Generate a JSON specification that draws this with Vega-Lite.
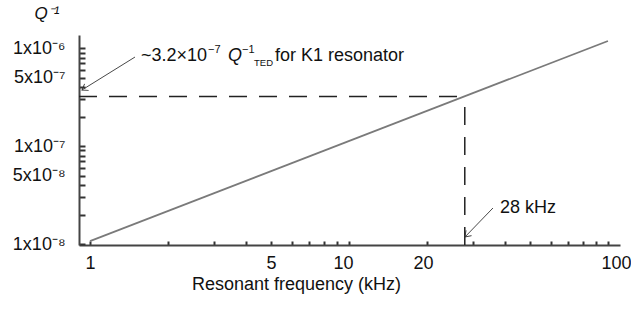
{
  "$schema": "https://vega.github.io/schema/vega-lite/v6.json",
  "width": 541,
  "height": 210,
  "autosize": {"type": "none"},
  "padding": {"left": 79, "top": 35, "right": 11, "bottom": 65},
  "background": "white",
  "config": {
    "view": {"stroke": null},
    "font": "Liberation Sans",
    "axis": {"grid": false}
  },
  "datasets": {
    "curve": [{"f": 1, "q": 1.07e-8}, {"f": 100, "q": 1.18e-6}],
    "guides": [
      {"f": 0.9069, "q": 3.2e-7, "f2": 28, "q2": 3.2e-7},
      {"f": 28, "q": 0.9768e-8, "f2": 28, "q2": 3.2e-7}
    ],
    "arrows": [
      {"f": 1.492, "q": 8.09e-7, "f2": 0.931, "q2": 3.73e-7},
      {"f": 35.97, "q": 2.33e-8, "f2": 28.05, "q2": 1.18e-8}
    ],
    "tips": [
      {"id": "K1", "f": 0.931, "q": 3.73e-7},
      {"id": "28", "f": 28.05, "q": 1.18e-8}
    ],
    "notes": [
      {"id": "a", "f": 1.574, "q": 7.37e-7, "txt": "~3.2×10"},
      {"id": "b", "f": 1.574, "q": 7.37e-7, "txt": "−7"},
      {"id": "c", "f": 1.574, "q": 7.37e-7, "txt": "Q"},
      {"id": "d", "f": 1.574, "q": 7.37e-7, "txt": "−1"},
      {"id": "e", "f": 1.574, "q": 7.37e-7, "txt": "TED"},
      {"id": "g", "f": 1.574, "q": 7.37e-7, "txt": "for K1 resonator"},
      {"id": "k", "f": 38.3, "q": 2.07e-8, "txt": "28 kHz"}
    ]
  },
  "encoding": {
    "x": {
      "field": "f",
      "type": "quantitative",
      "scale": {"type": "log", "domain": [0.9069, 111.3], "nice": false, "zero": false},
      "axis": {
        "title": "Resonant frequency (kHz)",
        "titleFontSize": 18,
        "titleFontWeight": "normal",
        "titleColor": "#111",
        "titleX": 217,
        "titleY": 44,
        "titleAlign": "center",
        "titleBaseline": "alphabetic",
        "values": [1, 2, 3, 4, 5, 6, 7, 8, 9, 10, 20, 30, 40, 50, 60, 70, 80, 90, 100],
        "labelExpr": "indexof([1,5,10,20,100], datum.value) >= 0 ? toString(datum.value) : ''",
        "labelFontSize": 18,
        "labelColor": "#111",
        "labelOverlap": false,
        "labelFlush": false,
        "labelPadding": 13,
        "labelOffset": {"condition": [{"test": "datum.value == 100", "value": 8}, {"test": "datum.value == 10", "value": -6}, {"test": "datum.value == 20", "value": -4}], "value": 0},
        "ticks": true,
        "tickSize": -4,
        "tickColor": "#333333",
        "tickWidth": 2,
        "domainColor": "#444",
        "domainWidth": 2
      }
    },
    "y": {
      "field": "q",
      "type": "quantitative",
      "scale": {"type": "log", "domain": [0.9768e-8, 1.358e-6], "nice": false, "zero": false},
      "axis": {
        "title": "Q⁻¹",
        "titleFontSize": 17,
        "titleFontStyle": "italic",
        "titleFontWeight": "normal",
        "titleColor": "#111",
        "titleAngle": 0,
        "titleX": -45,
        "titleY": -22,
        "titleAlign": "left",
        "titleBaseline": "middle",
        "values": [1e-8, 2e-8, 3e-8, 4e-8, 5e-8, 6e-8, 7e-8, 8e-8, 9e-8, 1e-7, 2e-7, 3e-7, 4e-7, 5e-7, 6e-7, 7e-7, 8e-7, 9e-7, 1e-6],
        "labelExpr": "round(datum.value*1e9)==1000 ? '1x10⁻⁶' : round(datum.value*1e9)==500 ? '5x10⁻⁷' : round(datum.value*1e9)==100 ? '1x10⁻⁷' : round(datum.value*1e9)==50 ? '5x10⁻⁸' : round(datum.value*1e9)==10 ? '1x10⁻⁸' : ''",
        "labelFontSize": 18,
        "labelColor": "#111",
        "labelOverlap": false,
        "labelFlush": false,
        "labelPadding": 20,
        "ticks": true,
        "tickSize": -6,
        "tickColor": "#333333",
        "tickWidth": 2,
        "domainColor": "#444",
        "domainWidth": 2
      }
    }
  },
  "layer": [
    {
      "data": {"name": "curve"},
      "mark": {"type": "line", "color": "#7a7a7a", "strokeWidth": 1.8}
    },
    {
      "data": {"name": "guides"},
      "mark": {"type": "rule", "color": "#222", "strokeWidth": 1.5, "strokeDash": [18, 12]},
      "encoding": {"x2": {"field": "f2"}, "y2": {"field": "q2"}}
    },
    {
      "data": {"name": "arrows"},
      "mark": {"type": "rule", "color": "#333", "strokeWidth": 0.9},
      "encoding": {"x2": {"field": "f2"}, "y2": {"field": "q2"}}
    },
    {
      "data": {"name": "tips"},
      "transform": [{"filter": "datum.id == 'K1'"}],
      "mark": {"type": "point", "shape": "M-1,-0.7L0,0L-1,0.7", "angle": 148, "size": 120, "filled": false, "stroke": "#333", "strokeWidth": 0.9, "opacity": 1}
    },
    {
      "data": {"name": "tips"},
      "transform": [{"filter": "datum.id == '28'"}],
      "mark": {"type": "point", "shape": "M-1,-0.7L0,0L-1,0.7", "angle": 134, "size": 120, "filled": false, "stroke": "#333", "strokeWidth": 0.9, "opacity": 1}
    },
    {
      "data": {"name": "notes"},
      "transform": [{"filter": "datum.id == 'a'"}],
      "mark": {"type": "text", "align": "left", "baseline": "alphabetic", "fontSize": 18, "color": "#111"},
      "encoding": {"text": {"field": "txt"}}
    },
    {
      "data": {"name": "notes"},
      "transform": [{"filter": "datum.id == 'b'"}],
      "mark": {"type": "text", "align": "left", "baseline": "alphabetic", "fontSize": 11, "dx": 67, "dy": -8, "color": "#111"},
      "encoding": {"text": {"field": "txt"}}
    },
    {
      "data": {"name": "notes"},
      "transform": [{"filter": "datum.id == 'c'"}],
      "mark": {"type": "text", "align": "left", "baseline": "alphabetic", "fontSize": 18, "fontStyle": "italic", "dx": 87, "color": "#111"},
      "encoding": {"text": {"field": "txt"}}
    },
    {
      "data": {"name": "notes"},
      "transform": [{"filter": "datum.id == 'd'"}],
      "mark": {"type": "text", "align": "left", "baseline": "alphabetic", "fontSize": 11, "dx": 101, "dy": -8, "color": "#111"},
      "encoding": {"text": {"field": "txt"}}
    },
    {
      "data": {"name": "notes"},
      "transform": [{"filter": "datum.id == 'e'"}],
      "mark": {"type": "text", "align": "left", "baseline": "alphabetic", "fontSize": 9.5, "dx": 113, "dy": 5, "color": "#111"},
      "encoding": {"text": {"field": "txt"}}
    },
    {
      "data": {"name": "notes"},
      "transform": [{"filter": "datum.id == 'g'"}],
      "mark": {"type": "text", "align": "left", "baseline": "alphabetic", "fontSize": 18, "dx": 134, "color": "#111"},
      "encoding": {"text": {"field": "txt"}}
    },
    {
      "data": {"name": "notes"},
      "transform": [{"filter": "datum.id == 'k'"}],
      "mark": {"type": "text", "align": "left", "baseline": "alphabetic", "fontSize": 18, "color": "#111"},
      "encoding": {"text": {"field": "txt"}}
    }
  ]
}
